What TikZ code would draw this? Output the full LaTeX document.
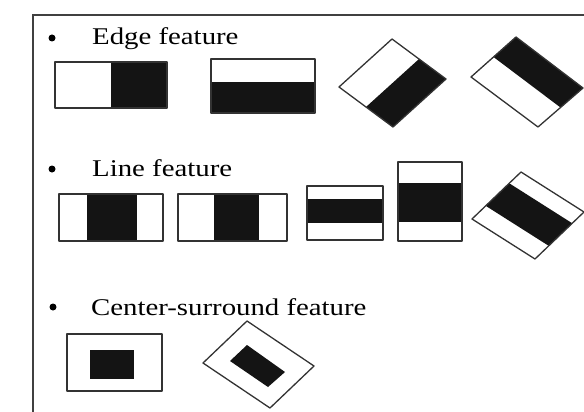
\documentclass[tikz,border=0pt]{standalone}
\usepackage{fontspec}
\setmainfont{Liberation Serif}
\usetikzlibrary{calc}
\tikzset{
  frame/.style={draw=black!75, line width=1.8pt},
  cell/.style={draw=black!80, line width=1.3pt, line join=round},
  dark/.style={fill=black!92},
  title/.style={anchor=base west, inner sep=0pt, font=\fontsize{24}{28}\selectfont},
  dot/.style={circle, fill=black, inner sep=0pt, minimum size=7pt}
}
\newcommand{\wide}[1]{\scalebox{1.2}[1]{#1}}
\begin{document}
\begin{tikzpicture}[x=1pt,y=-1pt]
\useasboundingbox (0,0) rectangle (584,412);
\clip (0,0) rectangle (584,412);
\draw[frame] (33,15) rectangle (620,440);

% edge features
\node[dot] (b1) at (52,38) {};
\node[title] (edge) at (92,45) {\wide{Edge feature}};
\fill[dark] (111,62) rectangle (167,108);
\draw[cell] (55,62) rectangle (167,108);
\fill[dark] (211,82) rectangle (315,113);
\draw[cell] (211,59) rectangle (315,113);
\coordinate (eL) at (339,87); \coordinate (eT) at (392,39);
\coordinate (eR) at (446,79); \coordinate (eB) at (393,127);
\fill[dark] ($(eL)!0.5!(eB)$) -- ($(eT)!0.5!(eR)$) -- (eR) -- (eB) -- cycle;
\draw[cell] (eL) -- (eT) -- (eR) -- (eB) -- cycle;
\coordinate (fL) at (471,77); \coordinate (fT) at (516,37);
\coordinate (fR) at (583,88); \coordinate (fB) at (538,127);
\fill[dark] ($(fL)!0.5!(fT)$) -- (fT) -- (fR) -- ($(fB)!0.5!(fR)$) -- cycle;
\draw[cell] (fL) -- (fT) -- (fR) -- (fB) -- cycle;

% line features
\node[dot] (b2) at (52,169) {};
\node[title] (line) at (92,176) {\wide{Line feature}};
\fill[dark] (87,194) rectangle (137,241);
\draw[cell] (59,194) rectangle (163,241);
\fill[dark] (214,194) rectangle (259,241);
\draw[cell] (178,194) rectangle (287,241);
\fill[dark] (307,199) rectangle (383,223);
\draw[cell] (307,186) rectangle (383,240);
\fill[dark] (398,183) rectangle (462,222);
\draw[cell] (398,162) rectangle (462,241);
\coordinate (lL) at (472,219); \coordinate (lT) at (521,172);
\coordinate (lR) at (584,212); \coordinate (lB) at (535,259);
\fill[dark] ($(lL)!0.28!(lT)$) -- ($(lL)!0.76!(lT)$) -- ($(lB)!0.76!(lR)$) -- ($(lB)!0.28!(lR)$) -- cycle;
\draw[cell] (lL) -- (lT) -- (lR) -- (lB) -- cycle;

% center-surround features
\node[dot] (b3) at (53,307) {};
\node[title] (center) at (91,315) {\wide{Center-surround feature}};
\fill[dark] (90,350) rectangle (134,379);
\draw[cell] (67,334) rectangle (162,391);
\coordinate (cL) at (203,363); \coordinate (cT) at (247,321);
\coordinate (cR) at (314,366); \coordinate (cB) at (270,408);
\fill[dark] (230,361) -- (247,345) -- (285,372) -- (268,387) -- cycle;
\draw[cell] (cL) -- (cT) -- (cR) -- (cB) -- cycle;
\end{tikzpicture}
\end{document}
